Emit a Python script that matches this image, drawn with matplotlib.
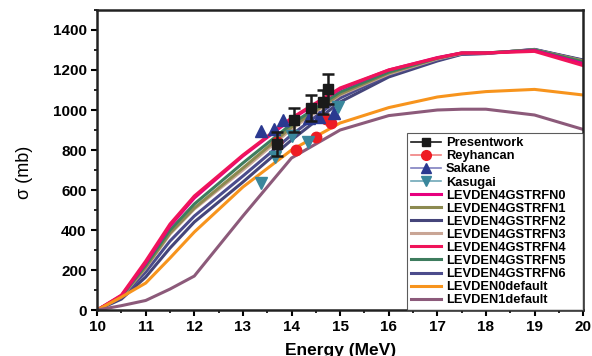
import matplotlib
matplotlib.use("Agg")
import matplotlib.pyplot as plt
from matplotlib.lines import Line2D
from matplotlib.ticker import MultipleLocator

plt.rcParams['font.family'] = ['Liberation Sans', 'DejaVu Sans']

# model energies (MeV)
energy = [10, 10.5, 11, 11.5, 12, 13, 14, 15, 16, 17, 17.5, 18, 19, 20]

# TALYS-style calculations (mb)
gstrfn0 = [0, 72, 235, 420, 560, 770, 955, 1105, 1200, 1262, 1285, 1285, 1297, 1232]
gstrfn1 = [0, 68, 215, 385, 510, 710, 915, 1080, 1185, 1258, 1283, 1285, 1300, 1245]
gstrfn2 = [0, 55, 165, 310, 440, 640, 850, 1040, 1165, 1245, 1278, 1282, 1303, 1250]
gstrfn3 = [0, 67, 210, 380, 505, 700, 905, 1075, 1180, 1255, 1282, 1285, 1300, 1245]
gstrfn4 = [0, 75, 245, 430, 570, 775, 960, 1110, 1200, 1260, 1285, 1285, 1293, 1222]
gstrfn5 = [0, 70, 225, 400, 530, 735, 930, 1090, 1190, 1260, 1285, 1285, 1300, 1240]
gstrfn6 = [0, 62, 190, 345, 470, 670, 875, 1060, 1175, 1250, 1280, 1283, 1302, 1248]
ld0_default = [0, 65, 135, 260, 390, 615, 800, 935, 1012, 1065, 1080, 1092, 1103, 1075]
ld1_default = [0, 22, 48, 105, 170, 470, 760, 900, 972, 1000, 1004, 1004, 975, 903]

# experimental data
present_e = [13.7, 14.05, 14.4, 14.65, 14.75]
present_s = [830, 950, 1010, 1040, 1105]
present_err = [58, 58, 64, 60, 75]

reyhancan_e = [13.7, 14.1, 14.5, 14.72, 14.82]
reyhancan_s = [840, 800, 865, 955, 935]

sakane_e = [13.37, 13.63, 13.83, 14.37, 14.57, 14.88]
sakane_s = [893, 905, 950, 958, 967, 983]

kasugai_e = [13.37, 13.66, 14.0, 14.33, 14.95]
kasugai_s = [635, 767, 870, 842, 1015]

fig = plt.figure(figsize=(5.92, 3.56), dpi=100)
ax = fig.add_axes([0.164, 0.129, 0.821, 0.843])

models = [
    (gstrfn0, '#E6007E', 'LEVDEN4GSTRFN0'),
    (gstrfn1, '#8C8A50', 'LEVDEN4GSTRFN1'),
    (gstrfn2, '#45457A', 'LEVDEN4GSTRFN2'),
    (gstrfn3, '#C9A595', 'LEVDEN4GSTRFN3'),
    (gstrfn4, '#F0145A', 'LEVDEN4GSTRFN4'),
    (gstrfn5, '#3E7C5E', 'LEVDEN4GSTRFN5'),
    (gstrfn6, '#4C4C8C', 'LEVDEN4GSTRFN6'),
    (ld0_default, '#F7941D', 'LEVDEN0default'),
    (ld1_default, '#8C5A7A', 'LEVDEN1default'),
]
order = [2, 6, 3, 1, 5, 0, 4, 7, 8]
for i in order:
    y, c, lab = models[i]
    ax.plot(energy, y, color=c, lw=2.2, zorder=2)

ax.plot(reyhancan_e, reyhancan_s, 'o', color='#EE1C24', ms=7.5, zorder=4)
ax.plot(sakane_e, sakane_s, '^', color='#2B3990', ms=8, zorder=4)
ax.plot(kasugai_e, kasugai_s, 'v', color='#3A879C', ms=8, zorder=4)
ax.errorbar(present_e, present_s, yerr=present_err, fmt='s', color='#1A1A1A',
            ms=6.5, capsize=4.5, elinewidth=1.8, capthick=1.8, zorder=5)

handles = [
    Line2D([], [], color='#1A1A1A', marker='s', ms=6, lw=1.2),
    Line2D([], [], color='#F08080', marker='o', mfc='#EE1C24', mec='#EE1C24', ms=7, lw=1.2),
    Line2D([], [], color='#8080C0', marker='^', mfc='#2B3990', mec='#2B3990', ms=7, lw=1.2),
    Line2D([], [], color='#70A8B8', marker='v', mfc='#3A879C', mec='#3A879C', ms=7, lw=1.2),
]
labels = ['Presentwork', 'Reyhancan', 'Sakane', 'Kasugai']
for y, c, lab in models:
    handles.append(Line2D([], [], color=c, lw=2.2))
    labels.append(lab)

# legend box stretched to span x 0.638..1.0 of the axes
leg = ax.legend(handles, labels, loc='lower left', bbox_to_anchor=(0.638, 0.0, 0.362, 0.59),
                mode='expand', prop={'weight': 'bold', 'size': 9.3}, frameon=True,
                fancybox=False, edgecolor='#333333', labelspacing=0.08, handlelength=2.3,
                handletextpad=0.4, borderpad=0.3, borderaxespad=0.0)
leg.get_frame().set_linewidth(0.8)

ax.set_xlim(10, 20)
ax.set_ylim(0, 1500)
ax.xaxis.set_major_locator(MultipleLocator(1))
ax.xaxis.set_minor_locator(MultipleLocator(0.5))
ax.yaxis.set_major_locator(MultipleLocator(200))
ax.yaxis.set_minor_locator(MultipleLocator(100))
ax.set_yticks(range(0, 1401, 200))
ax.tick_params(which='major', direction='out', length=4, width=1.5, labelsize=11)
ax.tick_params(which='minor', direction='out', length=2.5, width=1.2)
for lab in ax.get_xticklabels() + ax.get_yticklabels():
    lab.set_fontweight('bold')

for s in ax.spines.values():
    s.set_linewidth(1.8)
    s.set_color('#222222')

ax.set_xlabel('Energy (MeV)', fontsize=12.5, fontweight='bold', labelpad=6)
ax.set_ylabel('σ (mb)', fontsize=13)
ax.yaxis.set_label_coords(-0.132, 0.46)

fig.savefig('out.png', dpi=100)
